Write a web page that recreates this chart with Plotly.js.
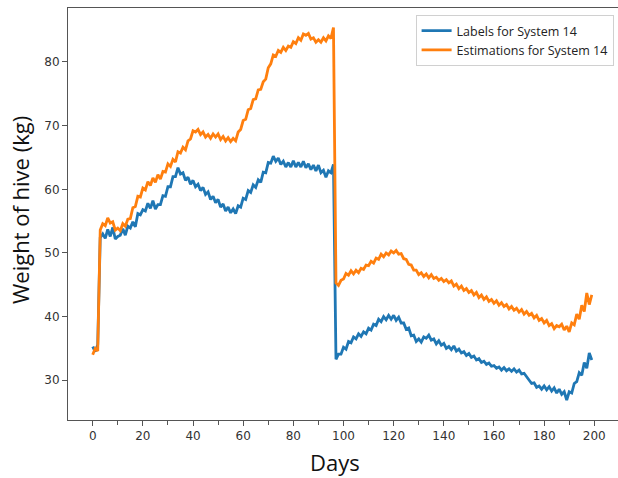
<!DOCTYPE html>
<html>
<head>
<meta charset="utf-8">
<script src="https://cdn.plot.ly/plotly-3.0.1.min.js"></script>
<style>html,body{margin:0;padding:0;background:#fff;}#chart{width:618px;height:478px;}</style>
</head>
<body>
<div id="chart"></div>
<script>
// Weight of hive (kg), one reading per day, days 0..199
const labelsSystem14 = [
  35.3, 34.5, 35.6, 52.4, 53.0, 52.3, 53.7, 52.6, 54.0, 52.2,
  52.6, 52.8, 53.8, 52.8, 54.2, 53.9, 54.9, 54.1, 56.2, 56.0,
  56.8, 56.6, 57.8, 57.0, 58.2, 56.9, 57.6, 57.6, 59.0, 58.9,
  60.4, 60.4, 62.0, 62.0, 63.4, 62.4, 62.6, 61.4, 61.9, 60.8,
  61.4, 60.4, 60.8, 59.8, 60.3, 59.2, 59.6, 58.4, 58.9, 57.9,
  58.4, 57.2, 57.7, 56.6, 57.2, 56.3, 56.9, 56.2, 57.4, 57.2,
  58.6, 58.4, 59.8, 59.5, 60.7, 60.3, 61.5, 61.1, 62.7, 62.6,
  64.2, 64.1, 65.2, 64.4, 64.9, 63.9, 64.4, 63.5, 64.2, 63.5,
  64.5, 63.5, 64.2, 63.5, 64.4, 63.4, 64.0, 63.1, 63.8, 62.9,
  63.8, 62.6, 63.0, 61.9, 62.9, 62.6, 63.9, 33.3, 34.1, 34.1,
  35.2, 34.9, 36.1, 35.9, 36.8, 36.5, 37.3, 36.9, 37.6, 37.3,
  38.2, 37.9, 38.8, 38.6, 39.6, 39.2, 40.0, 39.5, 40.2, 39.6,
  40.2, 39.4, 39.9, 39.0, 39.0, 38.0, 38.2, 37.0, 37.1, 36.1,
  36.5, 36.0, 36.8, 36.6, 37.1, 36.3, 36.5, 35.7, 36.2, 35.5,
  35.8, 35.0, 35.3, 34.8, 35.4, 34.6, 34.9, 34.3, 34.5, 33.9,
  34.2, 33.6, 33.8, 33.2, 33.4, 32.8, 33.0, 32.5, 32.7, 32.2,
  32.3, 31.9, 32.1, 31.6, 32.0, 31.5, 31.8, 31.4, 31.8, 31.3,
  31.6, 31.0, 31.1, 30.6, 30.1, 29.5, 29.6, 28.9, 29.1, 28.6,
  29.1, 28.5, 29.0, 28.3, 28.8, 28.0, 28.6, 27.8, 28.2, 26.9,
  28.2, 28.0, 29.5, 29.8, 31.2, 30.8, 32.8, 31.9, 34.3, 33.2
];
const estimationsSystem14 = [
  34.0, 35.0, 34.6, 53.6, 54.6, 54.3, 55.5, 54.7, 54.9, 53.6,
  53.9, 53.5, 54.6, 54.2, 55.3, 55.4, 57.1, 57.3, 58.9, 58.8,
  60.2, 59.9, 61.2, 60.6, 61.8, 61.1, 62.3, 61.6, 62.8, 62.7,
  64.0, 63.6, 64.7, 64.3, 65.9, 65.7, 66.6, 66.2, 67.6, 67.9,
  69.2, 69.0, 69.4, 68.6, 69.0, 68.2, 68.6, 68.0, 68.7, 68.2,
  68.7, 67.8, 68.3, 67.6, 68.1, 67.5, 68.0, 67.6, 69.0, 69.4,
  70.8, 71.0, 72.5, 72.7, 74.1, 74.2, 75.6, 75.7, 76.9, 77.3,
  79.1, 79.7, 81.1, 80.9, 81.8, 81.5, 82.3, 81.8, 82.5, 82.3,
  83.2, 82.9, 83.8, 83.4, 84.4, 84.2, 84.5, 83.6, 83.8, 83.1,
  83.5, 83.1, 83.8, 83.3, 84.1, 83.7, 85.4, 45.3, 44.9, 45.7,
  45.9, 46.8, 46.5, 47.2, 46.7, 47.3, 46.9, 47.6, 47.4, 48.1,
  48.0, 48.7, 48.4, 49.2, 49.0, 49.8, 49.4, 50.0, 49.7, 50.3,
  50.0, 50.4, 49.8, 49.9, 49.1, 49.0, 48.2, 48.1, 47.3, 47.3,
  46.6, 46.9, 46.3, 46.7, 46.1, 46.6, 46.0, 46.2, 45.7, 46.0,
  45.5, 45.8, 45.3, 45.6, 44.8, 45.1, 44.4, 44.8, 44.1, 44.4,
  43.8, 44.1, 43.4, 43.8, 43.0, 43.4, 42.7, 43.1, 42.4, 42.7,
  42.1, 42.5, 41.8, 42.2, 41.6, 41.9, 41.2, 41.6, 41.0, 41.3,
  40.7, 41.1, 40.4, 40.8, 40.2, 40.5, 39.8, 40.2, 39.4, 39.7,
  39.0, 39.4, 38.6, 38.9, 38.1, 38.6, 38.4, 38.8, 37.9, 38.5,
  37.6, 39.0, 38.7, 40.4, 39.6, 41.8, 40.8, 43.7, 41.9, 43.4
];
const days = labelsSystem14.map((_, i) => i);
const xTickVals = [0, 20, 40, 60, 80, 100, 120, 140, 160, 180, 200];
const yTickVals = [30, 40, 50, 60, 70, 80];

const traces = [
  {x: days, y: labelsSystem14, type: 'scatter', mode: 'lines', name: 'Labels for System 14',
   line: {color: '#1f77b4', width: 2.8}},
  {x: days, y: estimationsSystem14, type: 'scatter', mode: 'lines', name: 'Estimations for System 14',
   line: {color: '#ff7f0e', width: 2.8}}
];

const axisColor = '#555555';
const layout = {
  width: 618, height: 478,
  margin: {l: 68, r: 0, t: 8, b: 58},
  paper_bgcolor: '#ffffff', plot_bgcolor: '#ffffff',
  showlegend: true,
  legend: {x: 0.992, xanchor: 'right', y: 0.983, yanchor: 'top',
    bgcolor: 'rgba(255,255,255,0.9)', bordercolor: '#d0d0d0', borderwidth: 1,
    font: {family: 'Open Sans, Liberation Sans, sans-serif', size: 12.5, color: '#222'},
    tracegroupgap: 0},
  xaxis: {range: [-9.85, 209.45], tickvals: xTickVals, ticktext: xTickVals.map(String),
    showgrid: false, zeroline: false, showline: true, mirror: true, linecolor: axisColor, linewidth: 1,
    ticks: 'outside', ticklen: 5, tickcolor: axisColor, tickwidth: 1,
    minor: {dtick: 10, tick0: 0, ticks: 'outside', ticklen: 4, tickcolor: axisColor, showgrid: false},
    tickfont: {family: 'DejaVu Sans, sans-serif', size: 12, color: '#333'}},
  yaxis: {range: [23.76, 88.48], tickvals: yTickVals, ticktext: yTickVals.map(String),
    showgrid: false, zeroline: false, showline: true, linecolor: axisColor, linewidth: 1,
    ticks: 'outside', ticklen: 5, tickcolor: axisColor, tickwidth: 1,
    tickfont: {family: 'DejaVu Sans, sans-serif', size: 12, color: '#333'}},
  annotations: [
    {text: 'Days', xref: 'paper', yref: 'paper', x: 0.485, y: -0.143, xanchor: 'center', yanchor: 'bottom',
     showarrow: false, font: {family: 'Open Sans, Liberation Sans, sans-serif', size: 22, color: '#111'}},
    {text: 'Weight of hive (kg)', xref: 'paper', yref: 'paper', x: -0.087, y: 0.51, xanchor: 'center', yanchor: 'middle',
     textangle: -90, showarrow: false, font: {family: 'Open Sans, Liberation Sans, sans-serif', size: 22, color: '#111'}}
  ]
};

Plotly.newPlot('chart', traces, layout, {displayModeBar: false, staticPlot: true});
</script>
</body>
</html>
